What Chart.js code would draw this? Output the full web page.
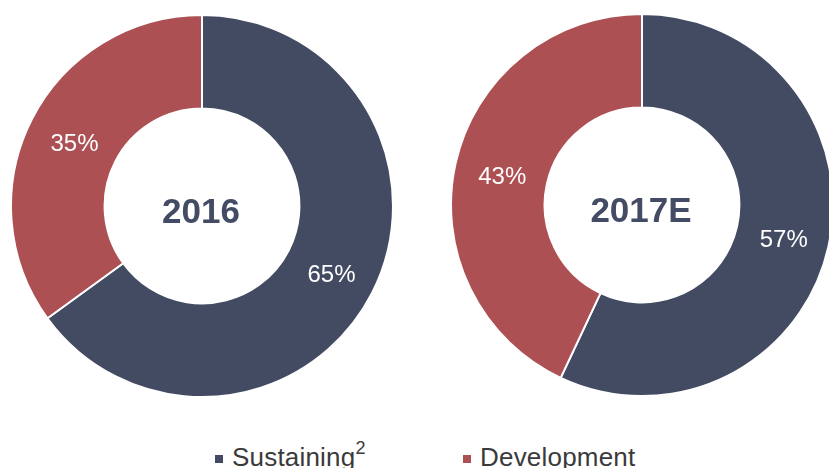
<!DOCTYPE html>
<html>
<head>
<meta charset="utf-8">
<script src="https://cdn.jsdelivr.net/npm/chart.js@4"></script>
<style>
    html, body { margin: 0; padding: 0; background: #fff; }
    body { width: 829px; height: 468px; overflow: hidden; position: relative; font-family: "Liberation Sans", Arial, sans-serif; }
    .pie { position: absolute; width: 384px; height: 384px; }
    #pie2016 { left: 10px; top: 14px; }
    #pie2017 { left: 450px; top: 13px; }
    .legend { position: absolute; top: 442px; left: 0; width: 829px; height: 40px; font-size: 26px; color: #3a3a3a; letter-spacing: 0.2px; }
    .legend span.item { position: absolute; top: 0; white-space: nowrap; }
    .legend i { display: inline-block; width: 8px; height: 8px; margin-right: 9px; vertical-align: 3px; }
    .legend sup { font-size: 18px; vertical-align: 12px; line-height: 0; }
</style>
</head>
<body>
<div class="pie" id="pie2016"><canvas id="c2016"></canvas></div>
<div class="pie" id="pie2017"><canvas id="c2017"></canvas></div>
<div class="legend">
    <span class="item" style="left:215px"><i style="background:#434b63"></i>Sustaining<sup>2</sup></span>
    <span class="item" style="left:463px"><i style="background:#ad5054"></i>Development</span>
</div>
<script>
const categories = ['Sustaining', 'Development'];
const years = ['2016', '2017E'];
const values2016 = [65, 35];
const values2017 = [57, 43];
const colors = ['#434b63', '#ad5054'];

// percent labels on each slice plus the year in the hole
const sliceLabels = {
    id: 'sliceLabels',
    afterDatasetsDraw(chart, args, opts) {
        const ctx = chart.ctx;
        const meta = chart.getDatasetMeta(0);
        const data = chart.data.datasets[0].data;
        ctx.save();
        ctx.fillStyle = '#ffffff';
        ctx.font = '24px "Liberation Sans", Arial, sans-serif';
        ctx.textAlign = 'center';
        ctx.textBaseline = 'middle';
        meta.data.forEach((arc, i) => {
            const p = arc.tooltipPosition();
            ctx.fillText(data[i] + '%', p.x + 1, p.y + 4);
        });
        const a = meta.data[0];
        ctx.fillStyle = '#434c64';
        ctx.font = 'bold 35px "Liberation Sans", Arial, sans-serif';
        ctx.fillText(opts.title, a.x - 1, a.y + 7);
        ctx.restore();
    }
};

function makePie(id, values, title) {
    new Chart(document.getElementById(id), {
        type: 'doughnut',
        data: {
            labels: categories,
            datasets: [{
                data: values,
                backgroundColor: colors,
                borderColor: '#ffffff',
                borderWidth: 2
            }]
        },
        options: {
            responsive: true,
            maintainAspectRatio: false,
            animation: false,
            cutout: '51%',
            layout: { padding: 0 },
            plugins: {
                legend: { display: false },
                tooltip: { enabled: false },
                sliceLabels: { title: title }
            }
        },
        plugins: [sliceLabels]
    });
}

makePie('c2016', values2016, years[0]);
makePie('c2017', values2017, years[1]);
</script>
</body>
</html>
